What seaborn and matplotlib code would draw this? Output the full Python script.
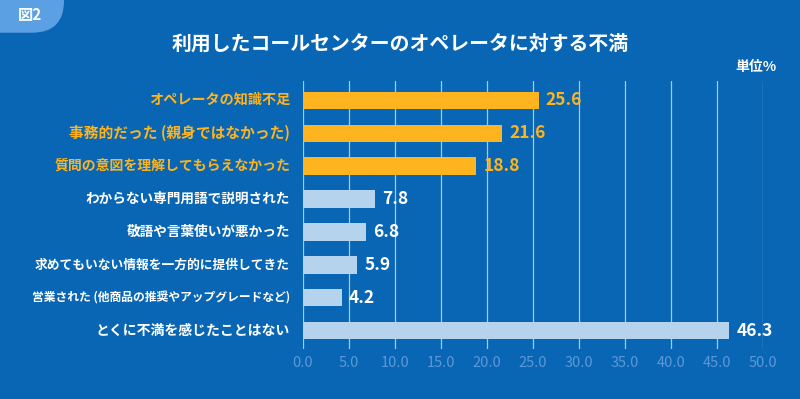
import matplotlib
matplotlib.use("Agg")
import matplotlib.pyplot as plt
import seaborn as sns
import pandas as pd
from matplotlib.patches import FancyBboxPatch

categories = [
    "オペレータの知識不足",
    "事務的だった (親身ではなかった)",
    "質問の意図を理解してもらえなかった",
    "わからない専門用語で説明された",
    "敬語や言葉使いが悪かった",
    "求めてもいない情報を一方的に提供してきた",
    "営業された (他商品の推奨やアップグレードなど)",
    "とくに不満を感じたことはない",
]
values = [25.6, 21.6, 18.8, 7.8, 6.8, 5.9, 4.2, 46.3]
highlight = [True, True, True, False, False, False, False, False]
xticks = [0, 5, 10, 15, 20, 25, 30, 35, 40, 45, 50]

label_sizes = [10.2, 10.6, 10.0, 9.8, 9.8, 9.2, 8.5, 10.0]

BG = "#0866b4"
ORANGE = "#fdb41f"
LIGHT = "#b5d3ec"
GRID = "#a9c9ea"
TICKC = "#5c98d8"

sns.set_theme(style="white")
plt.rcParams["font.family"] = ["Noto Sans CJK JP", "DejaVu Sans"]

df = pd.DataFrame({"cat": categories, "val": values,
                   "grp": ["hi" if h else "lo" for h in highlight]})

fig = plt.figure(figsize=(8, 3.99), dpi=100, facecolor=BG)
ax = fig.add_axes([0.37875, 0.1253, 0.575, 0.6717])
ax.set_facecolor(BG)

sns.barplot(data=df, x="val", y="cat", hue="grp", dodge=False,
            palette={"hi": ORANGE, "lo": LIGHT}, width=0.52,
            legend=False, ax=ax, saturation=1, linewidth=0, edgecolor="none")

ax.set_xlim(0, 50)
ax.set_ylim(7.55, -0.58)
ax.set_xticks(xticks)
ax.set_xticklabels([f"{t:.1f}" for t in xticks], color=TICKC, fontsize=10.5)
ax.tick_params(axis="x", length=0, pad=5)
ax.set_yticks([])
ax.set_xlabel("")
ax.set_ylabel("")
for s in ax.spines.values():
    s.set_visible(False)
ax.grid(axis="x", color=GRID, linewidth=0.9)
ax.set_axisbelow(True)

for i, (c, v, h) in enumerate(zip(categories, values, highlight)):
    col = ORANGE if h else "white"
    ax.text(-1.4, i, c, ha="right", va="center", color=col,
            fontsize=label_sizes[i], fontweight="bold")
    ax.text(v + 0.8, i, f"{v:.1f}", ha="left", va="center", color=col,
            fontsize=12.5, fontweight="bold")

fig.text(0.5, 0.893, "利用したコールセンターのオペレータに対する不満",
         ha="center", va="center", color="white", fontsize=14.3, fontweight="bold")
fig.text(0.9713, 0.833, "単位%", ha="right", va="center", color="white",
         fontsize=10, fontweight="bold")

tab = FancyBboxPatch((-0.05, 0.918), 0.13, 0.2,
                     boxstyle="round,pad=0,rounding_size=0.04",
                     transform=fig.transFigure, facecolor="#5aa0e2",
                     edgecolor="none", mutation_aspect=2.0)
fig.patches.append(tab)
fig.text(0.038, 0.962, "図2", ha="center", va="center", color="white",
         fontsize=11, fontweight="bold")

fig.savefig("out.png", dpi=100, facecolor=BG)
